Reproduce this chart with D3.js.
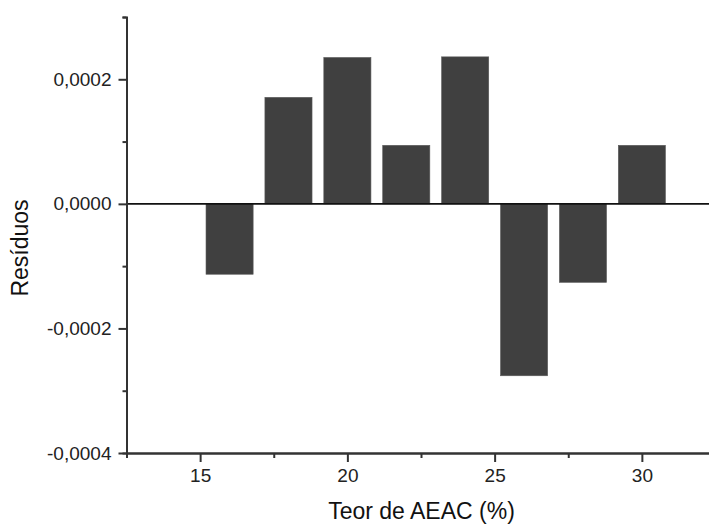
<!DOCTYPE html>
<html>
<head>
<meta charset="utf-8">
<script src="https://cdn.jsdelivr.net/npm/d3@7"></script>
<style>
  body { margin: 0; background: #fff; }
  svg { display: block; overflow: hidden; }
  text { font-family: "Liberation Sans", Arial, sans-serif; }
</style>
</head>
<body>
<script>
// Data
var teor = [16, 18, 20, 22, 24, 26, 28, 30];
var residuos = [-0.000113, 0.000171, 0.000235, 0.000094, 0.000236, -0.000276, -0.000126, 0.000094];

// Tick values
var xTicks = [15, 20, 25, 30];
var xMinor = [17.5, 22.5, 27.5, 32.5];
var yTicks = [-0.0004, -0.0002, 0, 0.0002];
var yMinor = [-0.0003, -0.0001, 0.0001, 0.0003];

// Dimensions (plot runs past the right edge, like the cropped original)
var margin = {top: 17, left: 126.5},
    width = 589,
    height = 436;

var x = d3.scaleLinear().domain([12.5, 32.5]).range([0, width]);
var y = d3.scaleLinear().domain([-0.0004, 0.0003]).range([height, 0]);

// Portuguese style numbers: comma decimal, plain hyphen minus
var pt = d3.formatLocale({decimal: ",", thousands: ".", grouping: [3], currency: ["R$", ""], minus: "-"});
var fmt = pt.format(".4f");

var svg = d3.select("body").append("svg")
    .attr("width", 709)
    .attr("height", 525);

var g = svg.append("g")
    .attr("transform", "translate(" + margin.left + "," + margin.top + ")");

// Bars
var barW = 1.6;
g.selectAll(".bar")
    .data(teor)
  .enter().append("rect")
    .attr("class", "bar")
    .attr("x", function(d) { return x(d - barW / 2); })
    .attr("width", function(d) { return x(d + barW / 2) - x(d - barW / 2); })
    .attr("y", function(d, i) { return y(Math.max(0, residuos[i])); })
    .attr("height", function(d, i) { return Math.abs(y(residuos[i]) - y(0)); })
    .attr("fill", "#404040")
    .attr("stroke", "#5a5a5a")
    .attr("stroke-width", 0.6);

// Zero line
g.append("line")
    .attr("x1", 0)
    .attr("x2", width)
    .attr("y1", y(0))
    .attr("y2", y(0))
    .attr("stroke", "#111")
    .attr("stroke-width", 1.6);

// Minor ticks
g.append("g")
    .attr("transform", "translate(0," + height + ")")
    .call(d3.axisBottom(x).tickValues(xMinor).tickSize(5).tickFormat(""))
    .call(styleAxis);
g.append("g")
    .call(d3.axisLeft(y).tickValues(yMinor).tickSize(4).tickFormat(""))
    .call(styleAxis);

// X axis
g.append("g")
    .attr("transform", "translate(0," + height + ")")
    .call(d3.axisBottom(x).tickValues(xTicks).tickSize(9).tickSizeOuter(0).tickPadding(7))
    .call(styleAxis);

// Y axis
g.append("g")
    .call(d3.axisLeft(y).tickValues(yTicks).tickSize(8).tickSizeOuter(0).tickPadding(7).tickFormat(fmt))
    .call(styleAxis);

function styleAxis(sel) {
  sel.select(".domain").attr("stroke", "#333").attr("stroke-width", 2);
  sel.selectAll(".tick line").attr("stroke", "#333").attr("stroke-width", 2);
  sel.selectAll(".tick text")
      .attr("fill", "#222")
      .style("font-size", "19px")
      .style("font-family", "'Liberation Sans', Arial, sans-serif");
}

// Axis titles
svg.append("text")
    .attr("x", 421.5)
    .attr("y", 519)
    .attr("text-anchor", "middle")
    .attr("fill", "#111")
    .style("font-size", "23px")
    .text("Teor de AEAC (%)");

svg.append("text")
    .attr("transform", "translate(28,248) rotate(-90)")
    .attr("text-anchor", "middle")
    .attr("fill", "#111")
    .style("font-size", "23px")
    .text("Resíduos");
</script>
</body>
</html>
